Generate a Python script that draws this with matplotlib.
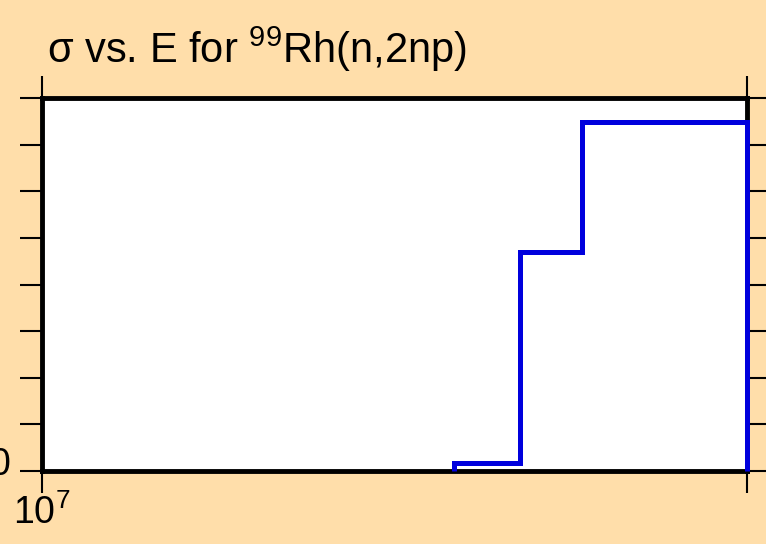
import matplotlib
matplotlib.use("Agg")
import matplotlib.pyplot as plt
from matplotlib.transforms import ScaledTranslation

plt.rcParams["font.family"] = ["Liberation Sans", "DejaVu Sans"]
plt.rcParams["mathtext.fontset"] = "custom"
plt.rcParams["mathtext.rm"] = "Liberation Sans"
plt.rcParams["mathtext.it"] = "Liberation Sans:italic"
plt.rcParams["mathtext.default"] = "regular"

# energy bin edges (eV) and cross section per bin (arbitrary units, 8 = top)
energy_edges = [1.5e7, 1.6e7, 1.7e7, 2.0e7]
sigma_values = [0.17, 4.70, 7.49]

x_limits = [1e7, 2e7]
y_limits = [0, 8]
y_ticks = [0, 1, 2, 3, 4, 5, 6, 7, 8]
y_tick_labels = ["0", "", "", "", "", "", "", "", ""]
x_ticks = [1e7, 2e7]
x_tick_labels = ["$10^{7}$", ""]

BG = "#FFDEAA"

fig = plt.figure(figsize=(7.66, 5.44), dpi=100, facecolor=BG)
ax = fig.add_axes([42 / 766, 1 - 471 / 544, 705 / 766, 373 / 544])
ax.set_facecolor("white")

ax.stairs(sigma_values, energy_edges, baseline=0, color="#0000DD", linewidth=3.6, clip_on=False, zorder=3)

ax.set_xscale("log")
ax.set_xlim(x_limits)
ax.set_ylim(y_limits)
ax.minorticks_off()
ax.set_xticks(x_ticks)
ax.set_xticklabels(x_tick_labels)
ax.set_yticks(y_ticks)
ax.set_yticklabels(y_tick_labels)

for s in ax.spines.values():
    s.set_linewidth(3.5)
    s.set_zorder(2)

ax.tick_params(axis="both", which="major", direction="out", length=16, width=1.5,
               top=True, right=True, labelsize=27)
ax.tick_params(axis="x", pad=1)
ax.tick_params(axis="y", pad=7)

# the "0" label sits a bit above its tick in the reference
for lbl in ax.get_yticklabels():
    lbl.set_transform(lbl.get_transform() + ScaledTranslation(0, 10 / 100, fig.dpi_scale_trans))

fig.text(47 / 766, 1 - 63 / 544, r"$\sigma$ vs. E for $^{99}$Rh(n,2np)", fontsize=30,
         ha="left", va="baseline")

fig.savefig("out.png", dpi=100, facecolor=BG)
